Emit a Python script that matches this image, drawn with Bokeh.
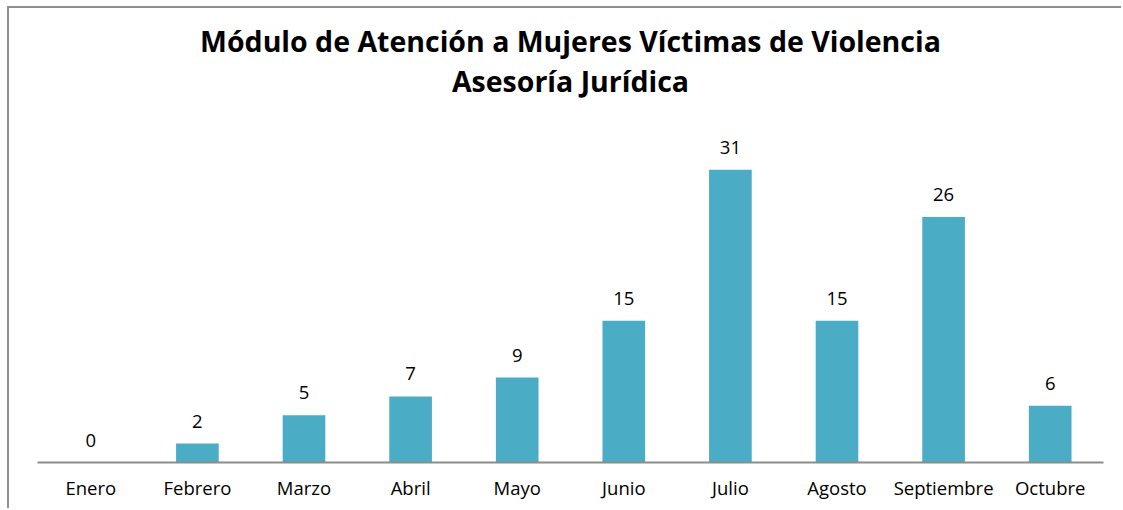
from bokeh.plotting import figure
from bokeh.models import ColumnDataSource, LabelSet, Range1d, Title
from bokeh.core.properties import value
from bokeh.embed import file_html
from bokeh.resources import INLINE

months = ["Enero", "Febrero", "Marzo", "Abril", "Mayo", "Junio",
          "Julio", "Agosto", "Septiembre", "Octubre"]
values = [0, 2, 5, 7, 9, 15, 31, 15, 26, 6]
title_line1 = "Módulo de Atención a Mujeres Víctimas de Violencia"
title_line2 = "Asesoría Jurídica"

src = ColumnDataSource(dict(m=months, v=values, t=[str(v) for v in values]))

p = figure(x_range=months, y_range=Range1d(0, 36), width=1114, height=502,
           output_backend="svg", toolbar_location=None,
           min_border_left=28, min_border_right=20, min_border_bottom=48,
           min_border_top=114)
p.styles = {"margin-left": "7px", "margin-top": "6px",
            "border-left": "2px solid #8f8f8f", "border-top": "2px solid #8f8f8f"}

p.title.visible = False


def make_title(text, standoff):
    return Title(text=text, align="center", text_font="Open Sans",
                 text_font_size="28.5px", text_font_style="bold",
                 text_color="#000000", standoff=standoff)


# invisible spacer panel between the plot frame and the title lines
spacer = Title(text=" ", text_font_size="1px", standoff=20, text_color="#ffffff")
p.add_layout(spacer, "above")
p.add_layout(make_title(title_line2, 0), "above")
p.add_layout(make_title(title_line1, 0), "above")

p.vbar(x="m", top="v", width=0.4, source=src, color="#4BACC6", line_color=None)

labels = LabelSet(x="m", y="v", text="t", source=src, text_align="center",
                  text_baseline="alphabetic", y_offset=16, text_font=value("Open Sans"),
                  text_font_size=value("18.5px"), text_color="#000000")
p.add_layout(labels)

p.yaxis.visible = False
p.xgrid.visible = False
p.ygrid.visible = False
p.outline_line_color = None
p.xaxis.axis_line_color = "#8c8c8c"
p.xaxis.axis_line_width = 2
p.xaxis.major_tick_line_color = None
p.xaxis.minor_tick_line_color = None
p.xaxis.major_label_standoff = 6
p.xaxis.major_label_text_font = "Open Sans"
p.xaxis.major_label_text_font_size = "18.5px"
p.xaxis.major_label_text_color = "#000000"
p.x_range.range_padding = 0

open("out.html", "w").write(file_html(p, INLINE))
